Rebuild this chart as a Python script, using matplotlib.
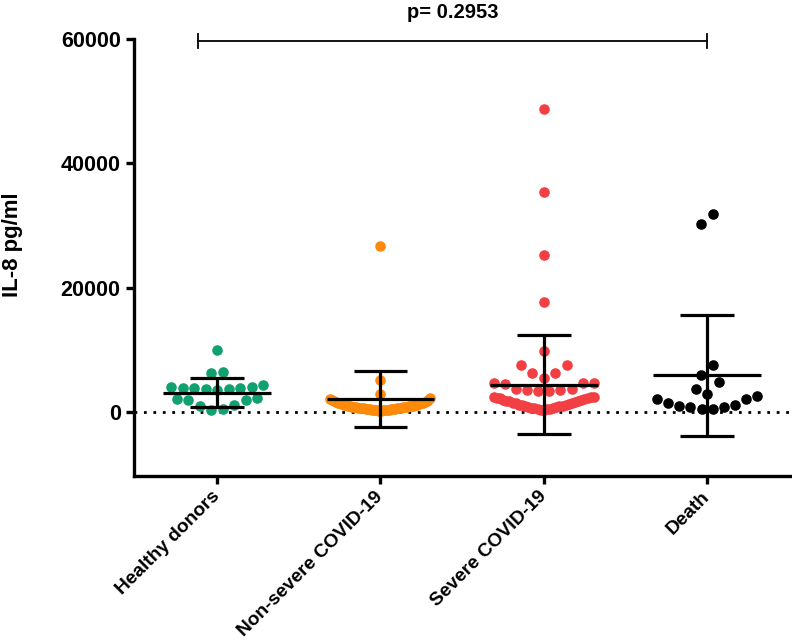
import numpy as np
import matplotlib
matplotlib.use("Agg")
from matplotlib import pyplot as plt

plt.rcParams['font.family'] = ['Liberation Sans', 'DejaVu Sans']
plt.rcParams['font.weight'] = 'bold'

# groups
categories = ["Healthy donors", "Non-severe COVID-19", "Severe COVID-19", "Death"]
colors = ["#11a06f", "#ff8a0a", "#f23f44", "#000000"]

# IL-8 values (pg/ml)
healthy = [9900, 6500, 6200, 4100, 3900, 3800, 3700, 3700, 3600, 3800, 4000, 4300,
           2100, 1900, 2000, 2200, 1100, 1000, 400, 350]
non_severe = [26700, 5200, 2900, 2200, 2100, 1950, 1850, 1800, 1700, 1650, 1600, 1520,
              1480, 1400, 1380, 1300, 1260, 1200, 1150, 1120, 1080, 1020, 990, 960, 930,
              900, 870, 840, 810, 780, 760, 730, 700, 690, 650, 630, 600, 580, 560, 530,
              510, 480, 460, 440, 410, 390, 370, 340, 320, 300, 280, 260, 240, 220, 200]
severe = [48800, 35400, 25200, 17700, 9750, 7600, 7500, 6300, 6200, 5500, 4700, 4700,
          4600, 4500, 3700, 3600, 3400, 3300, 3500, 3700,
          2450, 2400, 2400, 2300, 2300, 2200, 2100, 2000, 1900, 1800, 1750, 1700, 1600,
          1500, 1450, 1400, 1300, 1200, 1150, 1100, 1000, 950, 900, 800, 750, 700, 650,
          600, 500, 450, 400, 350, 300]
death = [31900, 30200, 7500, 6000, 4900, 3700, 2900, 2100, 1500, 1000, 800, 500, 500,
         800, 1100, 2100, 2600]

# mean +/- SD as drawn
means = [3100, 2100, 4400, 5900]
sds = [2300, 4500, 8000, 9700]

p_text = "p= 0.2953"

groups = [healthy, non_severe, severe, death]

fig = plt.figure(figsize=(7.92, 6.42), dpi=100)
ax = fig.add_axes([0.169, 0.2586, 0.831, 0.6804])
ax.set_xlim(-0.51, 3.52)
ax.set_ylim(-10300, 60000)


def swarm(ax, xc, vals, d=11.5, rowh=13.5, maxw=50):
    # prism-like scatter: values grouped in rows, lowest in the middle of a row
    vals = np.asarray(vals, dtype=float)
    pts = ax.transData.transform(np.column_stack([np.full(len(vals), xc), vals]))
    order = np.argsort(vals, kind="stable")
    xs = np.full(len(vals), pts[0, 0])
    rows, cur, start = [], [], None
    for i in order:
        y = pts[i, 1]
        if start is None or y - start >= rowh:
            if cur:
                rows.append(cur)
            cur, start = [i], y
        else:
            cur.append(i)
    rows.append(cur)
    for row in rows:
        n = len(row)
        sp = d if n < 2 else min(d, 2 * maxw / (n - 1))
        if n % 2 == 1:
            slots = [0.0]
            for k in range(1, n // 2 + 1):
                slots += [-k, k]
        else:
            slots = []
            for k in range(n // 2):
                slots += [-(k + 0.5), k + 0.5]
        for i, s in zip(row, slots):
            xs[i] = pts[i, 0] + s * sp
    back = ax.transData.inverted().transform(np.column_stack([xs, pts[:, 1]]))
    return back[:, 0]


for k, vals in enumerate(groups):
    xs = swarm(ax, k, vals)
    ax.scatter(xs, vals, s=58, color=colors[k], linewidths=0, zorder=2)

# mean and SD bars
for k in range(len(categories)):
    m, s = means[k], sds[k]
    ax.hlines(m, k - 0.33, k + 0.33, color="black", lw=2.3, zorder=3)
    ax.vlines(k, m - s, m + s, color="black", lw=2.3, zorder=3)
    ax.hlines([m - s, m + s], k - 0.165, k + 0.165, color="black", lw=2.3, zorder=3)

ax.axhline(0, color="black", lw=2, ls=(0, (1, 2.4)), zorder=1)

# p-value bracket
ax.plot([-0.12, 3.0], [59700, 59700], color="black", lw=1.3, clip_on=False)
ax.plot([-0.12, -0.12], [58600, 60800], color="black", lw=1.3, clip_on=False)
ax.plot([3.0, 3.0], [58600, 60800], color="black", lw=1.3, clip_on=False)
ax.text(1.44, 64300, p_text, ha="center", va="center", fontsize=14.5, fontweight="bold")

ax.spines["top"].set_visible(False)
ax.spines["right"].set_visible(False)
ax.spines["left"].set_linewidth(2.4)
ax.spines["bottom"].set_linewidth(2.4)

ax.set_yticks([0, 20000, 40000, 60000])
ax.set_yticklabels(["0", "20000", "40000", "60000"], fontsize=15.5, fontweight="bold")
ax.set_xticks(range(len(categories)))
ax.set_xticklabels(categories, rotation=45, ha="right", va="center", rotation_mode="anchor",
                   fontsize=13.8, fontweight="bold")
ax.tick_params(width=2.4, length=6)
ax.tick_params(axis="x", pad=7)
ax.set_ylabel("IL-8 pg/ml", fontsize=16, fontweight="bold")
ax.yaxis.set_label_coords(-0.168, 0.53)

plt.savefig("out.png", dpi=100)
